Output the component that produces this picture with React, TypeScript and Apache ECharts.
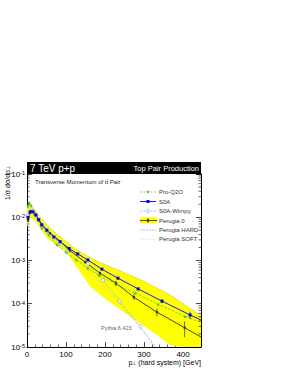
import React, { useEffect, useRef } from 'react';
import * as echarts from 'echarts';

const FONT = '"Liberation Sans", Arial, Helvetica, sans-serif';

// ---- data ----
const proQ2OPt = [2.5, 5, 10, 18, 28, 38, 56, 77, 100, 126, 156, 185, 228, 277, 336, 405, 446];
const proQ2OVal = [0.018, 0.022, 0.019, 0.013, 0.0087, 0.0056, 0.0039, 0.0023, 0.00156, 0.00103, 0.00066, 0.00045, 0.00028, 0.000177, 0.000098, 0.000051, 0.000037];

const s0aPt = [2.5, 8, 15, 23, 30, 38, 51, 69, 85, 108, 130, 156, 192, 233, 285, 346, 418, 446];
const s0aVal = [0.010, 0.0132, 0.0134, 0.0112, 0.0088, 0.0066, 0.0050, 0.0035, 0.0027, 0.0019, 0.00142, 0.00103, 0.00063, 0.00039, 0.00022, 0.000115, 0.000055, 0.000042];

const wimpyPt = [2.5, 8, 15, 23, 38, 51, 69, 85, 108, 156, 195, 238, 290, 345];
const wimpyVal = [0.011, 0.014, 0.0135, 0.011, 0.0064, 0.0048, 0.0033, 0.0025, 0.0017, 0.00083, 0.00035, 0.000115, 0.00003, 0.0000065];

const perugia0Pt = [2.5, 10, 20, 38, 59, 85, 110, 149, 187, 228, 274, 333, 404, 446];
const perugia0Val = [0.0087, 0.0138, 0.0118, 0.0069, 0.0043, 0.0028, 0.0017, 0.00092, 0.00051, 0.0003, 0.000142, 0.000064, 0.000028, 0.000017];
const perugia0Err = [0.05, 0.04, 0.04, 0.05, 0.05, 0.06, 0.06, 0.08, 0.1, 0.12, 0.15, 0.2, 0.4, 0];

const s0aErr = [0, 0, 0, 0, 0, 0, 0, 0, 0, 0, 0, 0.04, 0.05, 0.06, 0.08, 0.1, 0.2, 0];

const bandPt = [0, 5, 10, 20, 30, 50, 75, 100, 123, 162, 200, 246, 300, 333, 367, 400, 446];
const bandUpper = [0.018, 0.021, 0.019, 0.015, 0.011, 0.0068, 0.0042, 0.0028, 0.0019, 0.00115, 0.00081, 0.00054, 0.00033, 0.00023, 0.00016, 0.0001, 0.000054];
const bandLower = [0.0055, 0.0085, 0.0098, 0.0085, 0.0062, 0.0034, 0.0022, 0.0016, 0.0008, 0.00025, 0.00013, 0.000066, 0.00003, 0.000019, 0.000011, 0.0000068, 0.0000035];

const softPt = [2.5, 10, 20, 40, 70, 100, 130, 162, 200, 250, 300, 340];
const softVal = [0.011, 0.014, 0.012, 0.0062, 0.0031, 0.0018, 0.00105, 0.00054, 0.00024, 0.000075, 0.000022, 0.0000065];

const yDecades = [-5, -4, -3, -2];
const minorMultipliers = [2, 3, 4, 5, 6, 7, 8, 9];

const xMin = 0;
const xMax = 446;
const xInterval = 100;
const yMin = 1e-5;
const yMax = 1e-1;

const GREEN = '#4cbb4c';
const BLUE = '#0000ee';
const LIGHTBLUE = '#88aaee';
const DARK = '#333333';

const STAR = 'path://M0,-5L1.2,-1.6L4.8,-1.5L1.9,0.6L2.9,4L0,2L-2.9,4L-1.9,0.6L-4.8,-1.5L-1.2,-1.6Z';

function pairs(xs: number[], ys: number[], lastNoSymbol = false) {
  return xs.map((x, i) => {
    if (lastNoSymbol && i === xs.length - 1) return { value: [x, ys[i]], symbol: 'none' };
    return [x, ys[i]];
  });
}

function starPoints(cx: number, cy: number, r: number) {
  const pts: number[][] = [];
  for (let k = 0; k < 10; k++) {
    const a = -Math.PI / 2 + (k * Math.PI) / 5;
    const rr = k % 2 === 0 ? r : r * 0.4;
    pts.push([cx + rr * Math.cos(a), cy + rr * Math.sin(a)]);
  }
  return pts;
}

export default function App() {
  const ref = useRef<HTMLDivElement>(null);
  useEffect(() => {
    const chart = echarts.init(ref.current!, null, { renderer: 'svg' });

    const minorVals: number[] = [];
    yDecades.forEach((d) => minorMultipliers.forEach((m) => minorVals.push(m * Math.pow(10, d))));

    const legendX1 = 140;
    const legendX2 = 156;
    const legendMid = 148;
    const legendText = 159;
    const ly = [192, 201.5, 211, 220.5, 230, 239];

    const legendGraphics: any[] = [
      { type: 'line', shape: { x1: legendX1, y1: ly[0], x2: legendX2, y2: ly[0] }, style: { stroke: GREEN, lineWidth: 0.7, lineDash: [2, 1.5] } },
      { type: 'polygon', shape: { points: starPoints(legendMid, ly[0], 2) }, style: { fill: GREEN } },
      { type: 'line', shape: { x1: legendX1, y1: ly[1], x2: legendX2, y2: ly[1] }, style: { stroke: BLUE, lineWidth: 0.9 } },
      { type: 'rect', shape: { x: legendMid - 1.5, y: ly[1] - 1.5, width: 3, height: 3 }, style: { fill: BLUE } },
      { type: 'line', shape: { x1: legendX1, y1: ly[2], x2: legendX2, y2: ly[2] }, style: { stroke: LIGHTBLUE, lineWidth: 0.7, lineDash: [2, 1.5] } },
      { type: 'polygon', shape: { points: [[legendMid, ly[2] - 2.2], [legendMid + 1.5, ly[2]], [legendMid, ly[2] + 2.2], [legendMid - 1.5, ly[2]]] }, style: { fill: '#fff', stroke: LIGHTBLUE, lineWidth: 0.7 } },
      { type: 'rect', shape: { x: legendX1, y: ly[3] - 3, width: 17, height: 6 }, style: { fill: '#ffff00' } },
      { type: 'line', shape: { x1: legendX1, y1: ly[3], x2: legendX2 + 1, y2: ly[3] }, style: { stroke: DARK, lineWidth: 0.9 } },
      { type: 'line', shape: { x1: legendMid, y1: ly[3] - 2.5, x2: legendMid, y2: ly[3] + 2.5 }, style: { stroke: DARK, lineWidth: 0.7 } },
      { type: 'circle', shape: { cx: legendMid, cy: ly[3], r: 1.3 }, style: { fill: DARK } },
      { type: 'line', shape: { x1: legendX1, y1: ly[4], x2: legendX2, y2: ly[4] }, style: { stroke: '#999', lineWidth: 0.6, lineDash: [2, 1] } },
      { type: 'line', shape: { x1: legendX1, y1: ly[5], x2: legendX2, y2: ly[5] }, style: { stroke: '#aab4cc', lineWidth: 0.6, lineDash: [0.8, 1] } },
    ];
    const legendNames = ['Pro-Q2O', 'S0A', 'S0A-Wimpy', 'Perugia 0', 'Perugia HARD', 'Perugia SOFT'];
    legendNames.forEach((n, i) => {
      legendGraphics.push({
        type: 'text', x: legendText, y: ly[i],
        style: { text: n, fontSize: 6, fontFamily: FONT, fill: '#333', align: 'left', verticalAlign: 'middle' },
      });
    });

    const errorBarSeries = (name: string, xs: number[], ys: number[], errs: number[], color: string) => ({
      type: 'custom',
      name,
      z: 4,
      silent: true,
      clip: true,
      encode: { x: 0, y: 1 },
      data: xs.map((x, i) => [x, ys[i], errs[i]]).filter((d) => d[2] > 0),
      renderItem: (params: any, api: any) => {
        const x = api.value(0);
        const v = api.value(1);
        const e = api.value(2);
        const p1 = api.coord([x, v * (1 + e)]);
        const p2 = api.coord([x, v * (1 - e)]);
        return {
          type: 'line',
          shape: { x1: p1[0], y1: p1[1], x2: p2[0], y2: p2[1] },
          style: { stroke: color, lineWidth: 0.7 },
        };
      },
    });

    const option: any = {
      animation: false,
      backgroundColor: '#fff',
      grid: { left: 27, right: 88, top: 174, bottom: 27, containLabel: false },
      xAxis: [{
        type: 'value',
        min: xMin,
        max: xMax,
        interval: xInterval,
        axisLine: { show: true, lineStyle: { color: '#000', width: 1 } },
        axisTick: { show: true, inside: true, length: 5, lineStyle: { color: '#000', width: 0.7 } },
        minorTick: { show: true, splitNumber: 5, length: 2.5, lineStyle: { color: '#000', width: 0.6 } },
        axisLabel: { fontSize: 8, fontFamily: FONT, color: '#000', margin: 3, showMaxLabel: false },
        splitLine: { show: false },
      }],
      yAxis: [
        {
          type: 'log',
          logBase: 10,
          min: yMin,
          max: yMax,
          axisLine: { show: true, lineStyle: { color: '#000', width: 1 } },
          axisTick: { show: true, inside: true, length: 5, lineStyle: { color: '#000', width: 0.7 } },
          axisLabel: {
            margin: 2,
            color: '#000',
            formatter: (v: number) => `{b|10}{s|${Math.round(Math.log10(v))}}`,
            rich: {
              b: { fontSize: 8, fontFamily: FONT, color: '#000', lineHeight: 8, verticalAlign: 'bottom' },
              s: { fontSize: 5.5, fontFamily: FONT, color: '#000', lineHeight: 6, padding: [0, 0, 8, 0], verticalAlign: 'top' },
            },
          },
          splitLine: { show: false },
        },
        {
          type: 'log',
          logBase: 10,
          min: yMin,
          max: yMax,
          position: 'right',
          axisLine: { show: true, lineStyle: { color: '#000', width: 1 } },
          axisTick: { show: true, inside: true, length: 5, lineStyle: { color: '#000', width: 0.7 } },
          axisLabel: { show: false },
          splitLine: { show: false },
        },
      ],
      series: [
        {
          type: 'custom',
          name: 'Perugia band',
          z: 1,
          silent: true,
          data: [0],
          renderItem: (params: any, api: any) => {
            if (params.dataIndex !== 0) return null;
            const cs = params.coordSys;
            const top = cs.y;
            const bottom = cs.y + cs.height;
            const up = bandPt.map((x, i) => api.coord([x, bandUpper[i]]));
            const lo = bandPt.map((x, i) => api.coord([x, bandLower[i]])).reverse();
            const pts = up.concat(lo).map((p: number[]) => [p[0], Math.min(Math.max(p[1], top), bottom)]);
            return { type: 'polygon', shape: { points: pts }, style: { fill: '#ffff00', stroke: 'none' } };
          },
        },
        {
          type: 'custom',
          name: 'minor ticks',
          z: 5,
          silent: true,
          encode: { x: 0, y: 1 },
          data: minorVals.map((v) => [0, v]),
          renderItem: (params: any, api: any) => {
            const cs = params.coordSys;
            const y = api.coord([0, api.value(1)])[1];
            return {
              type: 'group',
              children: [
                { type: 'line', shape: { x1: cs.x, y1: y, x2: cs.x + 2.5, y2: y }, style: { stroke: '#000', lineWidth: 0.6 } },
                { type: 'line', shape: { x1: cs.x + cs.width - 2.5, y1: y, x2: cs.x + cs.width, y2: y }, style: { stroke: '#000', lineWidth: 0.6 } },
              ],
            };
          },
        },
        {
          type: 'line',
          name: 'Perugia HARD',
          z: 2,
          symbol: 'none',
          data: pairs(bandPt, bandUpper),
          lineStyle: { color: '#999', width: 0.5, type: [2, 1] },
        },
        {
          type: 'line',
          name: 'Perugia SOFT',
          z: 2,
          symbol: 'none',
          data: pairs(softPt, softVal),
          lineStyle: { color: '#aab4cc', width: 0.7, type: [0.8, 1] },
        },
        {
          type: 'line',
          name: 'S0A-Wimpy',
          z: 3,
          symbol: 'diamond',
          symbolSize: [3.5, 4.5],
          data: pairs(wimpyPt, wimpyVal, true),
          lineStyle: { color: LIGHTBLUE, width: 0.7, type: [2.5, 1.5] },
          itemStyle: { color: '#fff', borderColor: LIGHTBLUE, borderWidth: 0.7 },
        },
        {
          type: 'line',
          name: 'Perugia 0',
          z: 3,
          symbol: 'circle',
          symbolSize: 2.5,
          data: pairs(perugia0Pt, perugia0Val, true),
          lineStyle: { color: DARK, width: 0.9 },
          itemStyle: { color: DARK },
        },
        {
          type: 'line',
          name: 'Pro-Q2O',
          z: 3,
          symbol: STAR,
          symbolSize: 4,
          data: pairs(proQ2OPt, proQ2OVal, true),
          lineStyle: { color: GREEN, width: 0.7, type: [2.5, 1.5] },
          itemStyle: { color: GREEN },
        },
        {
          type: 'line',
          name: 'S0A',
          z: 3,
          symbol: 'rect',
          symbolSize: 3,
          data: pairs(s0aPt, s0aVal, true),
          lineStyle: { color: BLUE, width: 0.9 },
          itemStyle: { color: BLUE },
        },
        errorBarSeries('Perugia 0 errors', perugia0Pt, perugia0Val, perugia0Err, DARK),
        errorBarSeries('S0A errors', s0aPt, s0aVal, s0aErr, BLUE),
      ],
      graphic: {
        elements: [
          { type: 'rect', shape: { x: 27, y: 162, width: 174, height: 12 }, style: { fill: '#000000' }, z: 10 },
          { type: 'text', x: 30, y: 168, z: 11, style: { text: '7 TeV p+p', fontSize: 10, fontFamily: FONT, fill: '#ffffff', align: 'left', verticalAlign: 'middle' } },
          { type: 'text', x: 199, y: 168, z: 11, style: { text: 'Top Pair Production', fontSize: 7.5, fontFamily: FONT, fill: '#ffffff', opacity: 1, align: 'right', verticalAlign: 'middle' } },
          { type: 'text', x: 35, y: 182, z: 11, style: { text: 'Transverse Momentum of tt\u0304 Pair', fontSize: 6, fontFamily: FONT, fill: '#222', align: 'left', verticalAlign: 'middle' } },
          { type: 'text', x: 101, y: 328, z: 11, style: { text: 'Pythia 6.423', fontSize: 5.5, fontFamily: FONT, fill: '#666', align: 'left', verticalAlign: 'middle' } },
          {
            type: 'text', x: 201, y: 362, z: 11,
            style: {
              text: 'p{sub|⊥} (hard system) [GeV]', fontSize: 7, fontFamily: FONT, fill: '#000', align: 'right', verticalAlign: 'middle',
              rich: { sub: { fontSize: 5, fontFamily: FONT, fill: '#000', verticalAlign: 'bottom', lineHeight: 5, padding: [4, 0, 0, 0] } },
            },
          },
          {
            type: 'text', x: 7, y: 166, z: 11, rotation: Math.PI / 2,
            style: {
              text: '1/σ dσ/dp{sub|⊥}', fontSize: 7, fontFamily: FONT, fill: '#000', align: 'right', verticalAlign: 'middle',
              rich: { sub: { fontSize: 5, fontFamily: FONT, fill: '#000', verticalAlign: 'bottom', lineHeight: 5, padding: [4, 0, 0, 0] } },
            },
          },
          ...legendGraphics.map((g) => ({ ...g, z: 11 })),
        ],
      },
    };

    chart.setOption(option);
    return () => chart.dispose();
  }, []);

  return (
    <div
      ref={ref}
      style={{ position: 'fixed', left: 0, top: 0, width: 289, height: 374, background: '#fff' }}
    />
  );
}
